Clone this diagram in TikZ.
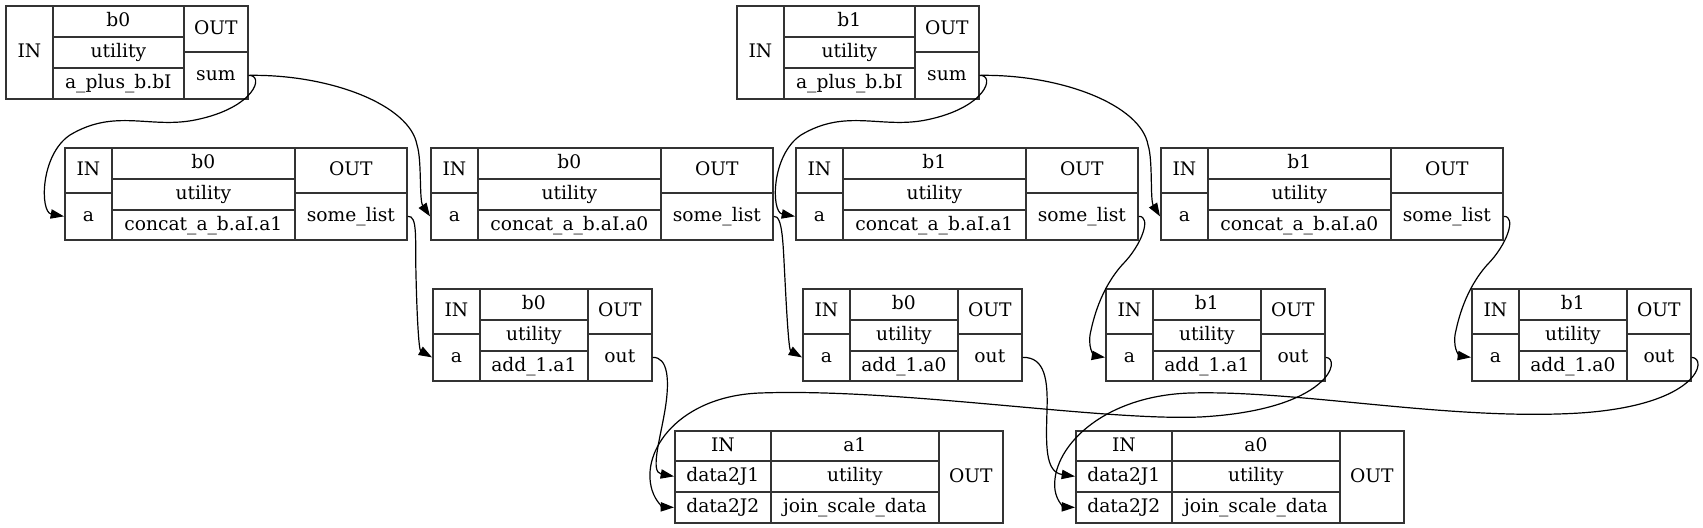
\documentclass[tikz,border=0pt]{standalone}
\usepackage{fontspec}
\setmainfont{DejaVu Serif}
\usetikzlibrary{arrows.meta}

\tikzset{
  cell/.style 2 args={draw=black!80, line width=1.3pt, inner sep=0pt, anchor=north west, minimum width=#1*0.75pt, minimum height=#2*0.75pt, text height=10.5pt, text depth=2.5pt, font=\fontsize{14pt}{16pt}\selectfont},
  wire/.style={->, >={Triangle[length=10pt,width=7pt]}, line width=0.9pt},
}

\begin{document}
\begin{tikzpicture}[x=0.75pt, y=-0.75pt]
        \useasboundingbox (0,0) rectangle (1703,528);
        % nodes: a_plus_b
        \node[cell={47}{93}] (pb0in) at (5,5) {IN};
        \node[cell={131}{31}] (pb0name) at (52,5) {b0};
        \node[cell={131}{31}] (pb0util) at (52,36) {utility};
        \node[cell={131}{31}] (pb0func) at (52,67) {a\_plus\_b.bI};
        \node[cell={64}{46}] (pb0head) at (183,5) {OUT};
        \node[cell={64}{47}] (pb0sum) at (183,51) {sum};
        \node[cell={47}{93}] (pb1in) at (736,5) {IN};
        \node[cell={131}{31}] (pb1name) at (783,5) {b1};
        \node[cell={131}{31}] (pb1util) at (783,36) {utility};
        \node[cell={131}{31}] (pb1func) at (783,67) {a\_plus\_b.bI};
        \node[cell={64}{46}] (pb1head) at (914,5) {OUT};
        \node[cell={64}{47}] (pb1sum) at (914,51) {sum};
        % nodes: concat_a_b
        \node[cell={47}{45}] (cb0a1in) at (64,147) {IN};
        \node[cell={47}{47}] (cb0a1a) at (64,192) {a};
        \node[cell={183}{31}] (cb0a1name) at (111,147) {b0};
        \node[cell={183}{31}] (cb0a1util) at (111,178) {utility};
        \node[cell={183}{30}] (cb0a1func) at (111,209) {concat\_a\_b.aI.a1};
        \node[cell={112}{45}] (cb0a1head) at (294,147) {OUT};
        \node[cell={112}{47}] (cb0a1list) at (294,192) {some\_list};
        \node[cell={47}{45}] (cb0a0in) at (430,147) {IN};
        \node[cell={47}{47}] (cb0a0a) at (430,192) {a};
        \node[cell={183}{31}] (cb0a0name) at (477,147) {b0};
        \node[cell={183}{31}] (cb0a0util) at (477,178) {utility};
        \node[cell={183}{30}] (cb0a0func) at (477,209) {concat\_a\_b.aI.a0};
        \node[cell={112}{45}] (cb0a0head) at (660,147) {OUT};
        \node[cell={112}{47}] (cb0a0list) at (660,192) {some\_list};
        \node[cell={47}{45}] (cb1a1in) at (795,147) {IN};
        \node[cell={47}{47}] (cb1a1a) at (795,192) {a};
        \node[cell={183}{31}] (cb1a1name) at (842,147) {b1};
        \node[cell={183}{31}] (cb1a1util) at (842,178) {utility};
        \node[cell={183}{30}] (cb1a1func) at (842,209) {concat\_a\_b.aI.a1};
        \node[cell={112}{45}] (cb1a1head) at (1025,147) {OUT};
        \node[cell={112}{47}] (cb1a1list) at (1025,192) {some\_list};
        \node[cell={47}{45}] (cb1a0in) at (1160,147) {IN};
        \node[cell={47}{47}] (cb1a0a) at (1160,192) {a};
        \node[cell={183}{31}] (cb1a0name) at (1207,147) {b1};
        \node[cell={183}{31}] (cb1a0util) at (1207,178) {utility};
        \node[cell={183}{30}] (cb1a0func) at (1207,209) {concat\_a\_b.aI.a0};
        \node[cell={112}{45}] (cb1a0head) at (1390,147) {OUT};
        \node[cell={112}{47}] (cb1a0list) at (1390,192) {some\_list};
        % nodes: add_1
        \node[cell={47}{45}] (ab0a1in) at (432,288) {IN};
        \node[cell={47}{47}] (ab0a1a) at (432,333) {a};
        \node[cell={108}{31}] (ab0a1name) at (479,288) {b0};
        \node[cell={108}{31}] (ab0a1util) at (479,319) {utility};
        \node[cell={108}{30}] (ab0a1func) at (479,350) {add\_1.a1};
        \node[cell={64}{45}] (ab0a1head) at (587,288) {OUT};
        \node[cell={64}{47}] (ab0a1out) at (587,333) {out};
        \node[cell={47}{45}] (ab0a0in) at (802,288) {IN};
        \node[cell={47}{47}] (ab0a0a) at (802,333) {a};
        \node[cell={108}{31}] (ab0a0name) at (849,288) {b0};
        \node[cell={108}{31}] (ab0a0util) at (849,319) {utility};
        \node[cell={108}{30}] (ab0a0func) at (849,350) {add\_1.a0};
        \node[cell={64}{45}] (ab0a0head) at (957,288) {OUT};
        \node[cell={64}{47}] (ab0a0out) at (957,333) {out};
        \node[cell={47}{45}] (ab1a1in) at (1105,288) {IN};
        \node[cell={47}{47}] (ab1a1a) at (1105,333) {a};
        \node[cell={108}{31}] (ab1a1name) at (1152,288) {b1};
        \node[cell={108}{31}] (ab1a1util) at (1152,319) {utility};
        \node[cell={108}{30}] (ab1a1func) at (1152,350) {add\_1.a1};
        \node[cell={64}{45}] (ab1a1head) at (1260,288) {OUT};
        \node[cell={64}{47}] (ab1a1out) at (1260,333) {out};
        \node[cell={47}{45}] (ab1a0in) at (1471,288) {IN};
        \node[cell={47}{47}] (ab1a0a) at (1471,333) {a};
        \node[cell={108}{31}] (ab1a0name) at (1518,288) {b1};
        \node[cell={108}{31}] (ab1a0util) at (1518,319) {utility};
        \node[cell={108}{30}] (ab1a0func) at (1518,350) {add\_1.a0};
        \node[cell={64}{45}] (ab1a0head) at (1626,288) {OUT};
        \node[cell={64}{47}] (ab1a0out) at (1626,333) {out};
        % nodes: join_scale_data
        \node[cell={96}{30}] (ja1in) at (674,430) {IN};
        \node[cell={96}{31}] (ja1j1) at (674,460) {data2J1};
        \node[cell={96}{31}] (ja1j2) at (674,491) {data2J2};
        \node[cell={168}{30}] (ja1name) at (770,430) {a1};
        \node[cell={168}{31}] (ja1util) at (770,460) {utility};
        \node[cell={168}{31}] (ja1func) at (770,491) {join\_scale\_data};
        \node[cell={64}{92}] (ja1out) at (938,430) {OUT};
        \node[cell={96}{30}] (ja0in) at (1075,430) {IN};
        \node[cell={96}{31}] (ja0j1) at (1075,460) {data2J1};
        \node[cell={96}{31}] (ja0j2) at (1075,491) {data2J2};
        \node[cell={168}{30}] (ja0name) at (1171,430) {a0};
        \node[cell={168}{31}] (ja0util) at (1171,460) {utility};
        \node[cell={168}{31}] (ja0func) at (1171,491) {join\_scale\_data};
        \node[cell={64}{92}] (ja0out) at (1339,430) {OUT};
        % edges: sum -> a
        \draw[wire] (pb0sum.east) .. controls (265,75) and (255,108) .. (195,120) .. controls (150,129) and (115,108) .. (70,135) .. controls (40,155) and (40,212) .. (cb0a1a.west);
        \draw[wire] (pb0sum.east) .. controls (330,74) and (410,105) .. (417,145) .. controls (422,160) and (419,200) .. (cb0a0a.west);
        \draw[wire] (pb1sum.east) .. controls (996,75) and (986,108) .. (926,120) .. controls (881,129) and (846,108) .. (801,135) .. controls (771,155) and (771,212) .. (cb1a1a.west);
        \draw[wire] (pb1sum.east) .. controls (1061,74) and (1141,105) .. (1148,145) .. controls (1153,160) and (1150,200) .. (cb1a0a.west);
        % edges: some_list -> a
        \draw[wire] (cb0a1list.east) .. controls (418,215) and (415,240) .. (416,275) .. controls (417,320) and (419,350) .. (ab0a1a.west);
        \draw[wire] (cb0a0list.east) .. controls (783,215) and (783,245) .. (785,280) .. controls (787,320) and (789,350) .. (ab0a0a.west);
        \draw[wire] (cb1a1list.east) .. controls (1152,216) and (1142,245) .. (1122,265) .. controls (1100,290) and (1093,320) .. (1090,335) .. controls (1088,352) and (1096,356) .. (ab1a1a.west);
        \draw[wire] (cb1a0list.east) .. controls (1517,216) and (1507,245) .. (1487,265) .. controls (1465,290) and (1458,320) .. (1455,335) .. controls (1453,352) and (1461,356) .. (ab1a0a.west);
        % edges: out -> data2J
        \draw[wire] (ab0a1out.east) .. controls (668,357) and (670,380) .. (665,410) .. controls (660,440) and (650,472) .. (ja1j1.west);
        \draw[wire] (ab0a0out.east) .. controls (1045,357) and (1048,380) .. (1047,410) .. controls (1046,445) and (1045,472) .. (ja0j1.west);
        \draw[wire] (ab1a1out.east) .. controls (1342,358) and (1330,410) .. (1200,417) .. controls (1100,421) and (900,388) .. (760,393) .. controls (680,396) and (640,450) .. (652,490) .. controls (656,503) and (664,507) .. (ja1j2.west);
        \draw[wire] (ab1a0out.east) .. controls (1708,358) and (1700,405) .. (1580,413) .. controls (1450,421) and (1300,390) .. (1190,393) .. controls (1100,396) and (1050,450) .. (1055,490) .. controls (1057,503) and (1065,507) .. (ja0j2.west);
\end{tikzpicture}
\end{document}
